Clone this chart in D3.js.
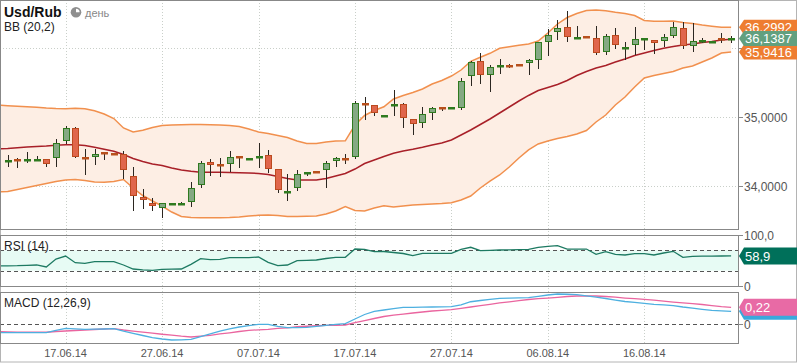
<!DOCTYPE html>
<html><head><meta charset="utf-8">
<script src="https://cdn.jsdelivr.net/npm/d3@7"></script>
<style>
body{margin:0;background:#fff}
svg{display:block}
text{font-family:"Liberation Sans",Arial,sans-serif}
</style>
</head><body>
<svg id="c" width="798" height="363"></svg>
<script>
// ---------- DATA ----------
const candleStart = "2014-06-11";   // first candle
const indicatorStart = "2014-06-10"; // indicators start one day earlier (clipped at left edge)
const opens  = [34.358,34.384,34.370,34.370,34.387,34.401,34.657,34.836,34.416,34.410,34.490,34.474,34.459,34.141,33.836,33.749,33.677,33.732,33.732,33.764,34.010,34.343,34.312,34.314,34.428,34.384,34.410,34.445,34.242,33.906,33.971,34.186,34.214,34.228,34.358,34.399,34.410,35.196,35.170,35.012,35.171,35.184,34.967,34.909,35.054,35.138,35.128,35.135,35.590,35.807,35.599,35.732,35.746,35.761,35.772,35.816,36.091,36.228,36.304,36.138,36.171,36.141,35.938,36.188,35.997,36.033,36.127,36.112,36.091,36.164,36.285,36.029,36.099,36.084,36.142,36.130];
const highs  = [34.445,34.406,34.493,34.435,34.390,34.681,34.870,34.851,34.532,34.532,34.497,34.478,34.507,34.271,33.952,33.822,33.758,33.746,33.761,34.054,34.362,34.387,34.401,34.512,34.428,34.399,34.628,34.519,34.242,34.170,34.232,34.203,34.214,34.362,34.425,34.464,35.232,35.294,35.170,35.026,35.391,35.199,34.971,35.141,35.141,35.138,35.142,35.565,35.816,35.928,35.749,35.836,35.764,35.761,35.841,36.083,36.271,36.406,36.536,36.319,36.171,36.319,36.207,36.290,36.087,36.304,36.142,36.112,36.207,36.377,36.372,36.362,36.141,36.099,36.213,36.174];
const lows   = [34.280,34.261,34.329,34.365,34.280,34.280,34.609,34.401,34.155,34.309,34.377,34.445,34.097,33.642,33.662,33.642,33.541,33.732,33.725,33.700,33.971,34.149,34.130,34.203,34.261,34.384,34.261,34.193,33.903,33.787,33.932,34.149,34.200,33.971,34.280,34.319,34.387,34.957,35.014,35.012,35.014,34.845,34.739,34.845,34.957,35.094,35.128,35.097,35.454,35.483,35.367,35.628,35.714,35.746,35.613,35.700,35.888,36.120,36.087,36.126,36.157,35.898,35.894,35.981,35.822,35.894,35.971,35.909,36.014,36.141,35.990,35.938,36.077,36.084,36.077,36.068];
const closes = [34.373,34.370,34.384,34.384,34.309,34.619,34.841,34.410,34.387,34.459,34.475,34.459,34.228,33.845,33.793,33.700,33.749,33.746,33.746,33.967,34.329,34.294,34.297,34.416,34.413,34.399,34.445,34.242,33.938,33.920,34.170,34.200,34.200,34.329,34.401,34.384,35.199,35.181,35.054,35.026,35.186,34.975,34.894,35.039,35.126,35.123,35.142,35.522,35.797,35.599,35.720,35.746,35.732,35.746,35.822,36.083,36.188,36.290,36.155,36.152,36.157,35.923,36.174,36.048,36.012,36.126,36.142,36.062,36.155,36.300,36.019,36.097,36.113,36.099,36.127,36.1387];

const bbUpper  = [35.171,35.164,35.157,35.149,35.142,35.130,35.123,35.120,35.126,35.119,35.091,35.043,34.978,34.841,34.783,34.807,34.848,34.877,34.884,34.888,34.891,34.891,34.888,34.884,34.877,34.862,34.826,34.783,34.761,34.732,34.703,34.652,34.616,34.616,34.638,34.652,34.655,34.884,35.022,35.094,35.149,35.261,35.312,35.355,35.406,35.478,35.529,35.594,35.681,35.807,35.865,35.923,35.996,36.019,36.039,36.058,36.102,36.217,36.348,36.442,36.500,36.544,36.551,36.539,36.517,36.500,36.471,36.399,36.387,36.389,36.391,36.370,36.355,36.333,36.315,36.300,36.2992];
const bbMiddle = [34.539,34.544,34.554,34.565,34.573,34.580,34.591,34.599,34.599,34.587,34.561,34.532,34.503,34.457,34.399,34.355,34.319,34.297,34.261,34.232,34.213,34.199,34.199,34.199,34.196,34.193,34.189,34.181,34.167,34.138,34.109,34.087,34.087,34.087,34.109,34.145,34.181,34.246,34.326,34.377,34.428,34.474,34.507,34.532,34.561,34.594,34.623,34.667,34.739,34.812,34.891,34.971,35.058,35.145,35.232,35.312,35.384,35.428,35.471,35.529,35.601,35.659,35.710,35.746,35.797,35.841,35.891,35.928,35.964,35.996,36.022,36.044,36.058,36.080,36.094,36.116,36.126];
const bbLower  = [33.913,33.920,33.949,33.978,34.007,34.036,34.065,34.087,34.094,34.080,34.058,34.054,34.065,34.094,33.971,33.862,33.783,33.710,33.623,33.558,33.544,33.541,33.541,33.541,33.544,33.551,33.565,33.575,33.580,33.572,33.558,33.558,33.561,33.565,33.594,33.638,33.703,33.645,33.638,33.681,33.714,33.696,33.710,33.725,33.732,33.739,33.746,33.758,33.797,33.855,33.971,34.072,34.160,34.275,34.406,34.522,34.609,34.652,34.688,34.717,34.754,34.804,34.928,35.029,35.174,35.290,35.435,35.565,35.601,35.630,35.659,35.710,35.739,35.797,35.855,35.928,35.9416];

const rsi = [39.2,39.6,39.8,40.6,41.2,37.3,52.9,58.8,45.7,44.5,47.6,47.6,47.6,41.2,33.3,31.8,30.8,32.7,32.9,33.3,42.5,53.5,51.6,52.4,55.5,55.5,55.5,56.9,46.5,39.8,41.2,49.6,50.4,51.0,53.9,56.3,56.3,72.5,72.0,67.3,67.6,65.7,63.7,59.4,64.1,64.1,64.1,64.1,72.0,75.9,69.2,70.0,70.6,71.0,71.4,72.0,75.9,77.8,79.0,72.5,72.5,72.5,62.2,67.3,62.2,60.8,63.3,63.3,60.8,64.7,68.0,56.3,58.2,58.4,58.6,58.8,58.9];
const macd = [-0.109,-0.109,-0.109,-0.109,-0.109,-0.109,-0.080,-0.052,-0.058,-0.065,-0.063,-0.061,-0.057,-0.087,-0.116,-0.145,-0.173,-0.190,-0.203,-0.201,-0.194,-0.158,-0.123,-0.087,-0.058,-0.035,-0.016,0.000,0.000,-0.028,-0.044,-0.044,-0.041,-0.028,-0.013,0.000,0.010,0.069,0.127,0.166,0.185,0.204,0.220,0.220,0.221,0.224,0.226,0.228,0.250,0.292,0.308,0.323,0.336,0.339,0.342,0.344,0.362,0.379,0.392,0.389,0.383,0.369,0.353,0.334,0.314,0.295,0.285,0.272,0.259,0.252,0.243,0.224,0.208,0.194,0.181,0.175,0.168];
const signal = [-0.096,-0.097,-0.100,-0.102,-0.103,-0.103,-0.093,-0.087,-0.080,-0.074,-0.067,-0.061,-0.057,-0.074,-0.087,-0.100,-0.113,-0.129,-0.141,-0.154,-0.164,-0.154,-0.142,-0.125,-0.110,-0.093,-0.079,-0.071,-0.066,-0.054,-0.045,-0.032,-0.025,-0.019,-0.014,-0.012,-0.009,0.023,0.049,0.075,0.101,0.120,0.133,0.146,0.159,0.172,0.181,0.189,0.206,0.224,0.242,0.259,0.276,0.291,0.307,0.321,0.331,0.340,0.349,0.360,0.366,0.366,0.366,0.360,0.351,0.340,0.331,0.323,0.312,0.299,0.288,0.278,0.268,0.256,0.243,0.230,0.220];

const xTickLabels = ["17.06.14","27.06.14","07.07.14","17.07.14","27.07.14","06.08.14","16.08.14"];
const priceTicks = [34, 35, 36];
const priceTickLabels = ["34,0000", "35,0000", ""];
const rsiLevels = [30, 70];
const rsiTicks = [0, 100];
const rsiTickLabels = ["0", "100,0"];
const macdTicks = [0];
const macdTickLabels = ["0"];
const lastUpper = 36.2992, lastClose = 36.1387, lastLower = 35.9416;
const lastRsi = 58.9, lastMacd = 0.168, lastSignal = 0.22;

// ---------- SETUP ----------
const parseTick = d3.utcParse("%d.%m.%y");
const parseISO = d3.utcParse("%Y-%m-%d");
const cStart = parseISO(candleStart), iStart = parseISO(indicatorStart);
const candleDates = d3.range(opens.length).map(i => d3.utcDay.offset(cStart, i));
const indDates = d3.range(bbUpper.length).map(i => d3.utcDay.offset(iStart, i));
const candles = candleDates.map((d, i) => ({d, o: opens[i], h: highs[i], l: lows[i], c: closes[i]}));

const svg = d3.select("#c");
const PL = 0, PR = 738;
const panels = {main: [0, 229], rsi: [235, 286], macd: [292, 343]};

const x = d3.scaleUtc()
  .domain([parseTick(xTickLabels[0]), parseTick(xTickLabels[6])])
  .range([65.6, 644.3]);
const yP = d3.scaleLinear().domain([33.3768, 36.6957]).range([229, 0]);
const yR = d3.scaleLinear().domain([0, 100]).range([286, 235]);
const yM = d3.scaleLinear().domain([-0.242, 0.418]).range([343, 292]);

const defs = svg.append("defs");
Object.entries(panels).forEach(([k, [t, b]]) => {
  defs.append("clipPath").attr("id", "clip-" + k)
    .append("rect").attr("x", PL + 1).attr("y", t + 1).attr("width", PR - PL - 1).attr("height", b - t - 1);
});

// background
svg.append("rect").attr("width", 798).attr("height", 363).attr("fill", "#fff");

// vertical grid
svg.append("g").selectAll("line").data(xTickLabels).join("line")
  .attr("x1", d => Math.round(x(parseTick(d))) + 0.5).attr("x2", d => Math.round(x(parseTick(d))) + 0.5)
  .attr("y1", 0).attr("y2", 343)
  .attr("stroke", "#c9cfc9").attr("stroke-dasharray", "1,2");

// ---------- MAIN PANEL ----------
const gMain = svg.append("g").attr("clip-path", "url(#clip-main)");
gMain.selectAll("line.hg").data(priceTicks).join("line").attr("class", "hg")
  .attr("x1", PL).attr("x2", PR).attr("y1", d => Math.round(yP(d)) + 0.5).attr("y2", d => Math.round(yP(d)) + 0.5)
  .attr("stroke", "#c9cfc9").attr("stroke-dasharray", "1,2");

const bb = indDates.map((d, i) => ({d, u: bbUpper[i], m: bbMiddle[i], l: bbLower[i]}));
gMain.append("path").datum(bb)
  .attr("d", d3.area().x(d => x(d.d)).y0(d => yP(d.l)).y1(d => yP(d.u)))
  .attr("fill", "#fdeee4");
[["u", "#f08a44"], ["l", "#f08a44"], ["m", "#a3141e"]].forEach(([k, col]) => {
  gMain.append("path").datum(bb)
    .attr("d", d3.line().x(d => x(d.d)).y(d => yP(d[k])))
    .attr("fill", "none").attr("stroke", col).attr("stroke-width", 1.5).attr("stroke-opacity", 0.95);
});

const cx = d => Math.round(x(d.d));
gMain.selectAll("line.wick").data(candles).join("line").attr("class", "wick")
  .attr("x1", d => cx(d) + 0.5).attr("x2", d => cx(d) + 0.5)
  .attr("y1", d => Math.round(yP(d.h))).attr("y2", d => Math.round(yP(d.l)))
  .attr("stroke", "#2b2620").attr("stroke-width", 1);

const up = d => d.c >= d.o;
const bodyH = d => Math.abs(yP(d.o) - yP(d.c));
gMain.selectAll("rect.body").data(candles.filter(d => bodyH(d) >= 2.5)).join("rect").attr("class", "body")
  .attr("x", d => cx(d) - 2.5).attr("width", 6)
  .attr("y", d => Math.round(Math.min(yP(d.o), yP(d.c))) + 0.5)
  .attr("height", d => Math.max(1, Math.round(bodyH(d)) - 1))
  .attr("fill", d => up(d) ? "#84a983" : "#e0664b")
  .attr("stroke", d => up(d) ? "#2f7a1f" : "#bb4a1f").attr("stroke-width", 1);
gMain.selectAll("rect.doji").data(candles.filter(d => bodyH(d) < 2.5)).join("rect").attr("class", "doji")
  .attr("x", d => cx(d) - 3).attr("width", 7)
  .attr("y", d => Math.round(yP((d.o + d.c) / 2)) - 1).attr("height", 2.5)
  .attr("fill", d => up(d) ? "#2f7a1f" : "#b8501c");

// ---------- RSI PANEL ----------
const gR = svg.append("g").attr("clip-path", "url(#clip-rsi)");
gR.append("rect").attr("x", PL).attr("width", PR - PL)
  .attr("y", yR(rsiLevels[1])).attr("height", yR(rsiLevels[0]) - yR(rsiLevels[1]))
  .attr("fill", "#e7fbf4");
gR.selectAll("line.lv").data(rsiLevels).join("line").attr("class", "lv")
  .attr("x1", PL).attr("x2", PR).attr("y1", d => Math.round(yR(d)) + 0.5).attr("y2", d => Math.round(yR(d)) + 0.5)
  .attr("stroke", "#555").attr("stroke-dasharray", "4,3");
gR.append("path").datum(indDates.map((d, i) => ({d, v: rsi[i]})))
  .attr("d", d3.line().x(d => x(d.d)).y(d => yR(d.v)))
  .attr("fill", "none").attr("stroke", "#1d7a62").attr("stroke-width", 1.3);

// ---------- MACD PANEL ----------
const gM = svg.append("g").attr("clip-path", "url(#clip-macd)");
gM.append("line").attr("x1", PL).attr("x2", PR)
  .attr("y1", Math.round(yM(0)) + 0.5).attr("y2", Math.round(yM(0)) + 0.5)
  .attr("stroke", "#555").attr("stroke-dasharray", "4,3");
gM.append("path").datum(indDates.map((d, i) => ({d, v: signal[i]})))
  .attr("d", d3.line().x(d => x(d.d)).y(d => yM(d.v)))
  .attr("fill", "none").attr("stroke", "#ea659f").attr("stroke-width", 1.3);
gM.append("path").datum(indDates.map((d, i) => ({d, v: macd[i]})))
  .attr("d", d3.line().x(d => x(d.d)).y(d => yM(d.v)))
  .attr("fill", "none").attr("stroke", "#4eb0e0").attr("stroke-width", 1.3);

// ---------- FRAMES ----------
svg.append("rect").attr("x", 0.5).attr("y", 0.5).attr("width", 796).attr("height", 361.5)
  .attr("fill", "none").attr("stroke", "#b4b4b4");
Object.values(panels).forEach(([t, b]) => {
  svg.append("rect").attr("x", PL + 0.5).attr("y", t + 0.5).attr("width", PR - PL).attr("height", b - t)
    .attr("fill", "none").attr("stroke", "#888");
});

// ---------- RIGHT AXES ----------
function rightAxis(scale, ticks, labels, clipTop, clipBottom) {
  const g = svg.append("g");
  ticks.forEach((t, i) => {
    const yy = Math.round(scale(t)) + 0.5;
    g.append("line").attr("x1", PR).attr("x2", PR + 5).attr("y1", yy).attr("y2", yy).attr("stroke", "#888");
    if (labels[i]) g.append("text").attr("x", PR + 6).attr("y", yy).attr("dy", "0.36em")
      .attr("font-size", 12).attr("fill", "#555").text(labels[i]);
  });
  return g;
}
rightAxis(yP, priceTicks, priceTickLabels);
rightAxis(yR, rsiTicks, rsiTickLabels);
rightAxis(yM, macdTicks, macdTickLabels);

// ---------- X AXIS LABELS ----------
svg.append("g").selectAll("text").data(xTickLabels).join("text")
  .attr("x", d => x(parseTick(d))).attr("y", 356.5).attr("text-anchor", "middle")
  .attr("font-size", 11).attr("fill", "#555").text(d => d);

// ---------- VALUE FLAGS ----------
function flag(yy, col, txt, h, fs) {
  const t = yy - h / 2, b = yy + h / 2;
  const g = svg.append("g");
  g.append("path").attr("d", `M${PR + 1},${yy} L${PR + 6},${t} L797,${t} L797,${b} L${PR + 6},${b} Z`).attr("fill", col);
  if (txt) g.append("text").attr("x", PR + 7).attr("y", yy).attr("dy", "0.36em")
    .attr("font-size", fs).attr("fill", "#fff").text(txt);
}
const fmt4 = v => d3.format(".4f")(v).replace(".", ",");
flag(yP(lastUpper), "#ee7d30", fmt4(lastUpper), 15, 13);
flag(yP(lastLower), "#ee7d30", fmt4(lastLower), 15, 13);
flag(yP(lastClose), "#62a07f", fmt4(lastClose), 15, 13);
flag(yR(lastRsi), "#00705a", d3.format(".1f")(lastRsi).replace(".", ","), 17, 13);
flag(yM(lastMacd), "#3aa8dc", "", 17, 13);
flag(yM(lastSignal), "#e86aa5", d3.format(".2f")(lastSignal).replace(".", ","), 17, 13);

// ---------- TITLES ----------
svg.append("text").attr("x", 4).attr("y", 17.3).attr("font-size", 14).attr("font-weight", "bold").attr("fill", "#111").text("Usd/Rub");
svg.append("text").attr("x", 4).attr("y", 30.7).attr("font-size", 12).attr("fill", "#222").text("BB (20,2)");
const clock = svg.append("g").attr("transform", "translate(76,12.3)");
clock.append("circle").attr("r", 5.3).attr("fill", "#8f8f8f");
clock.append("path").attr("d", d3.arc()({innerRadius: 0, outerRadius: 3.6, startAngle: 0, endAngle: Math.PI / 2})).attr("fill", "#fff");
svg.append("text").attr("x", 85).attr("y", 16.5).attr("font-size", 11).attr("fill", "#888").text("день");
svg.append("text").attr("x", 4).attr("y", 250).attr("font-size", 12).attr("fill", "#222").text("RSI (14)");
svg.append("text").attr("x", 4).attr("y", 307.3).attr("font-size", 12).attr("fill", "#222").text("MACD (12,26,9)");
</script>
</body></html>
